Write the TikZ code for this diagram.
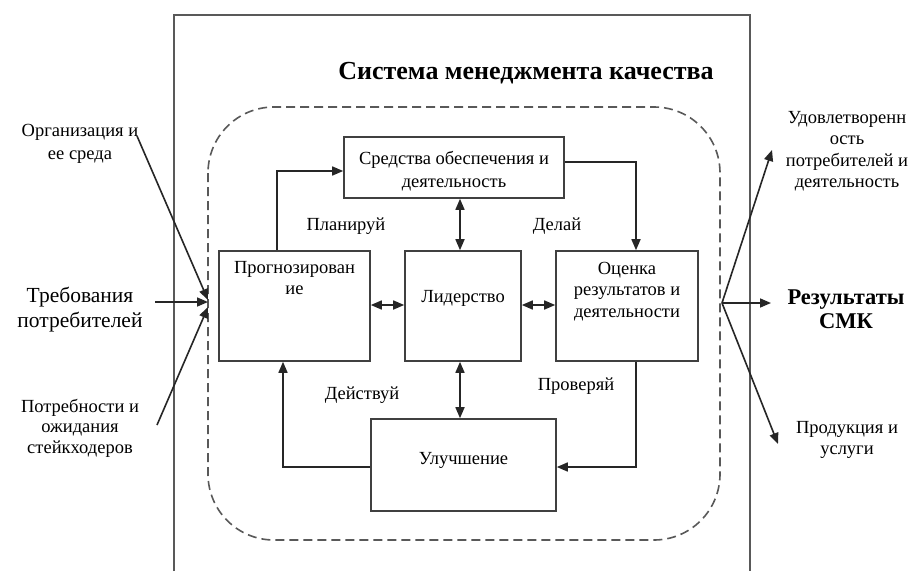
\documentclass[tikz,border=0pt]{standalone}
\usepackage{fontspec}
\setmainfont{Liberation Serif}
\usetikzlibrary{arrows.meta,calc}
\tikzset{
  box/.style={draw=black!75, line width=1.6pt, fill=white, inner sep=0pt},
  txt/.style={align=center, inner sep=0pt, font=\fontsize{18.5}{21.5}\selectfont, text=black},
  bigtxt/.style={align=center, inner sep=0pt, font=\fontsize{21.5}{25}\selectfont, text=black},
  arr/.style={draw=black!85, line width=1.6pt, -{Triangle[length=11pt,width=9pt]}},
  darr/.style={draw=black!85, line width=1.6pt, {Triangle[length=11pt,width=9pt]}-{Triangle[length=11pt,width=9pt]}},
  frame/.style={draw=black!65, line width=1.8pt},
  dashbox/.style={draw=black!65, line width=1.6pt, dash pattern=on 9pt off 5pt, rounded corners=66pt}
}
\begin{document}
\begin{tikzpicture}[x=1pt,y=-1pt]
\useasboundingbox[fill=white] (0,0) rectangle (910,571);
% outer frame
\draw[frame] (174,571) -- (174,15) -- (750,15) -- (750,571);
\node[font=\bfseries\fontsize{26}{30}\selectfont, inner sep=0pt] (title) at (526,73) {Система менеджмента качества};
% dashed area
\draw[dashbox] (208,107) rectangle (720,540);
% boxes
\node[box, minimum width=220pt, minimum height=61pt] (sred) at (454,167.5) {};
\node[txt, font=\fontsize{18.5}{23}\selectfont] (sredt) at (454,171) {Средства обеспечения и\\деятельность};
\node[box, minimum width=151pt, minimum height=110pt] (prog) at (294.5,306) {};
\node[txt, anchor=north] (progt) at (294.5,261) {Прогнозирован\\ие};
\node[box, minimum width=116pt, minimum height=110pt] (lid) at (463,306) {};
\node[txt] (lidt) at (463,298) {Лидерство};
\node[box, minimum width=142pt, minimum height=110pt] (ocen) at (627,306) {};
\node[txt, anchor=north] (ocent) at (627,262) {Оценка\\результатов и\\деятельности};
\node[box, minimum width=185pt, minimum height=92pt] (ulu) at (463.5,465) {};
\node[txt] (ulut) at (463.5,460) {Улучшение};
% PDCA labels
\node[txt] (plan) at (346,226) {Планируй};
\node[txt] (do) at (557,226) {Делай};
\node[txt] (act) at (362,395) {Действуй};
\node[txt] (chk) at (576,386) {Проверяй};
% connectors
\coordinate (b1) at (277,171);
\draw[arr] (b1 |- prog.north) -- (b1) -- (b1 -| sred.west);
\coordinate (b2) at (636,162);
\draw[arr] (b2 -| sred.east) -- (b2) -- (b2 |- ocen.north);
\coordinate (vx) at (460,0);
\draw[darr] (vx |- sred.south) -- (vx |- lid.north);
\draw[darr] (vx |- lid.south) -- (vx |- ulu.north);
\coordinate (hy) at (0,305);
\draw[darr] (hy -| prog.east) -- (hy -| lid.west);
\draw[darr] (hy -| lid.east) -- (hy -| ocen.west);
\coordinate (b3) at (636,467);
\draw[arr] (b3 |- ocen.south) -- (b3) -- (b3 -| ulu.east);
\coordinate (b4) at (283,467);
\draw[arr] (b4 -| ulu.west) -- (b4) -- (b4 |- prog.south);
% left inputs
\node[txt, font=\fontsize{18.5}{23.5}\selectfont] (org) at (80,144) {Организация и\\ее среда};
\node[bigtxt] (treb) at (80,310) {Требования\\потребителей};
\node[txt, font=\fontsize{18.5}{20.5}\selectfont] (potr) at (80,428) {Потребности и\\ожидания\\стейкходеров};
\coordinate (o1) at (137,136);
\coordinate (i1) at (208,300);
\coordinate (o2) at (155,302);
\coordinate (i2) at (208,302);
\coordinate (o3) at (157,425);
\coordinate (i3) at (208,307);
\draw[arr] (o1) -- (i1);
\draw[arr] (o2) -- (i2);
\draw[arr] (o3) -- (i3);
% right outputs
\node[txt] (udov) at (847,151) {Удовлетворенн\\ость\\потребителей и\\деятельность};
\node[bigtxt, font=\bfseries\fontsize{22.5}{24}\selectfont] (rez) at (846,309) {Результаты\\СМК};
\node[txt] (prod) at (847,440) {Продукция и\\услуги};
\coordinate (s0) at (722,303);
\coordinate (e1) at (772,150);
\coordinate (e2) at (771,303);
\coordinate (e3) at (778,444);
\draw[arr] (s0) -- (e1);
\draw[arr] (s0) -- (e2);
\draw[arr] (s0) -- (e3);
\end{tikzpicture}
\end{document}
